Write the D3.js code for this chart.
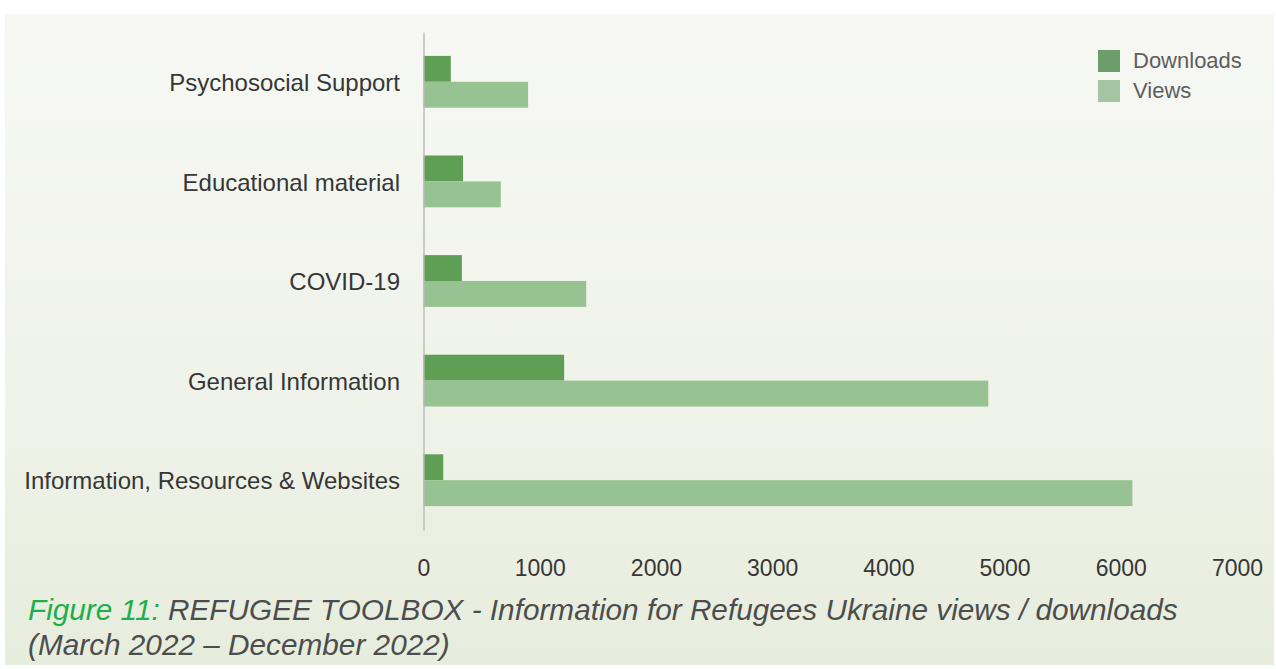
<!DOCTYPE html>
<html>
<head>
<meta charset="utf-8">
<script src="https://cdn.jsdelivr.net/npm/d3@7"></script>
<style>
  html, body { margin: 0; padding: 0; background: #ffffff; }
  svg { display: block; }
</style>
</head>
<body>
<svg id="chart" width="1276" height="669"></svg>
<script>
// Toolbox categories, top to bottom
const categories = [
  "Psychosocial Support",
  "Educational material",
  "COVID-19",
  "General Information",
  "Information, Resources & Websites"
];
const seriesNames = ["Downloads", "Views"];
const downloads = [235, 340, 330, 1210, 170];
const views = [900, 665, 1400, 4860, 6100];
const xTicks = [0, 1000, 2000, 3000, 4000, 5000, 6000, 7000];
const captionLead = "Figure 11:";
const captionLine1 = " REFUGEE TOOLBOX - Information for Refugees Ukraine views / downloads";
const captionLine2 = "(March 2022 \u2013 December 2022)";

const svg = d3.select("#chart");
const W = 1276, H = 669;

// soft green panel behind everything
const defs = svg.append("defs");
const grad = defs.append("linearGradient")
  .attr("id", "panelGrad").attr("x1", 0).attr("y1", 0).attr("x2", 0).attr("y2", 1);
grad.append("stop").attr("offset", "0%").attr("stop-color", "#f7f8f4");
grad.append("stop").attr("offset", "55%").attr("stop-color", "#f0f3ea");
grad.append("stop").attr("offset", "100%").attr("stop-color", "#e7eddd");
svg.append("rect")
  .attr("x", 5).attr("y", 14).attr("width", 1269).attr("height", 651)
  .attr("fill", "url(#panelGrad)");

const color = d3.scaleOrdinal().domain(seriesNames).range(["#5f9e55", "#97c291"]);
const legendColor = d3.scaleOrdinal().domain(seriesNames).range(["#6b9e6b", "#a4c4a2"]);

const x = d3.scaleLinear().domain([0, 7000]).range([423.5, 1237]);
const y = d3.scaleBand().domain(categories).range([32, 530])
  .paddingInner(0.48).paddingOuter(0.24);
const ySub = d3.scaleBand().domain(seriesNames).range([0, y.bandwidth()]);

const rows = categories.map((c, i) => ({
  category: c,
  values: [
    { key: "Downloads", value: downloads[i] },
    { key: "Views", value: views[i] }
  ]
}));

// bars
const groups = svg.append("g").selectAll("g")
  .data(rows).join("g")
  .attr("transform", d => `translate(0,${y(d.category)})`);
groups.selectAll("rect")
  .data(d => d.values).join("rect")
  .attr("x", x(0))
  .attr("y", d => ySub(d.key))
  .attr("width", d => x(d.value) - x(0))
  .attr("height", ySub.bandwidth())
  .attr("fill", d => color(d.key));

// category axis
const yAxis = svg.append("g")
  .attr("transform", `translate(${x(0)},0)`)
  .call(d3.axisLeft(y).tickSize(0).tickSizeOuter(0).tickPadding(23.5));
yAxis.select(".domain").attr("stroke", "#b9b9b3").attr("stroke-width", 1.4);
yAxis.selectAll("text")
  .attr("dy", "0.38em")
  .style("font-family", "'Liberation Sans', Arial, Helvetica, sans-serif")
  .style("font-size", "24px")
  .attr("fill", "#363636");

// value axis labels
const xAxis = svg.append("g")
  .attr("transform", "translate(0,560)")
  .call(d3.axisBottom(x).tickValues(xTicks).tickFormat(d3.format("d")).tickSize(0).tickPadding(0));
xAxis.select(".domain").remove();
xAxis.selectAll("text")
  .attr("dy", "0.71em")
  .style("font-family", "'Liberation Sans', Arial, Helvetica, sans-serif")
  .style("font-size", "23px")
  .attr("fill", "#363636");

// legend
const legend = svg.append("g").attr("transform", "translate(1098,50)");
const item = legend.selectAll("g").data(seriesNames).join("g")
  .attr("transform", (d, i) => `translate(0,${i * 30})`);
item.append("rect")
  .attr("width", 22).attr("height", 22)
  .attr("fill", d => legendColor(d));
item.append("text")
  .attr("x", 35).attr("y", 18)
  .style("font-family", "'Liberation Sans', Arial, Helvetica, sans-serif")
  .style("font-size", "22px")
  .attr("fill", "#5e5e5e")
  .text(d => d);

// caption: one text block, two lines
const capFont = "'Liberation Sans', Arial, sans-serif";
const cap = svg.append("text")
  .attr("x", 28).attr("y", 620)
  .style("font-family", capFont).style("font-style", "italic")
  .style("font-size", "26px");
const lead = cap.append("tspan").attr("fill", "#1fae4a").text(captionLead);
const rest = cap.append("tspan").attr("fill", "#4d4d4d").text(captionLine1);
cap.append("tspan").attr("x", 28).attr("dy", "1.18em")
  .attr("fill", "#4d4d4d").text(captionLine2);

// fit the first caption line to the chart span
const target = 1178 - 28;
const w = lead.node().getComputedTextLength() + rest.node().getComputedTextLength();
const fs = 26 * target / w;
cap.style("font-size", fs + "px");
</script>
</body>
</html>
